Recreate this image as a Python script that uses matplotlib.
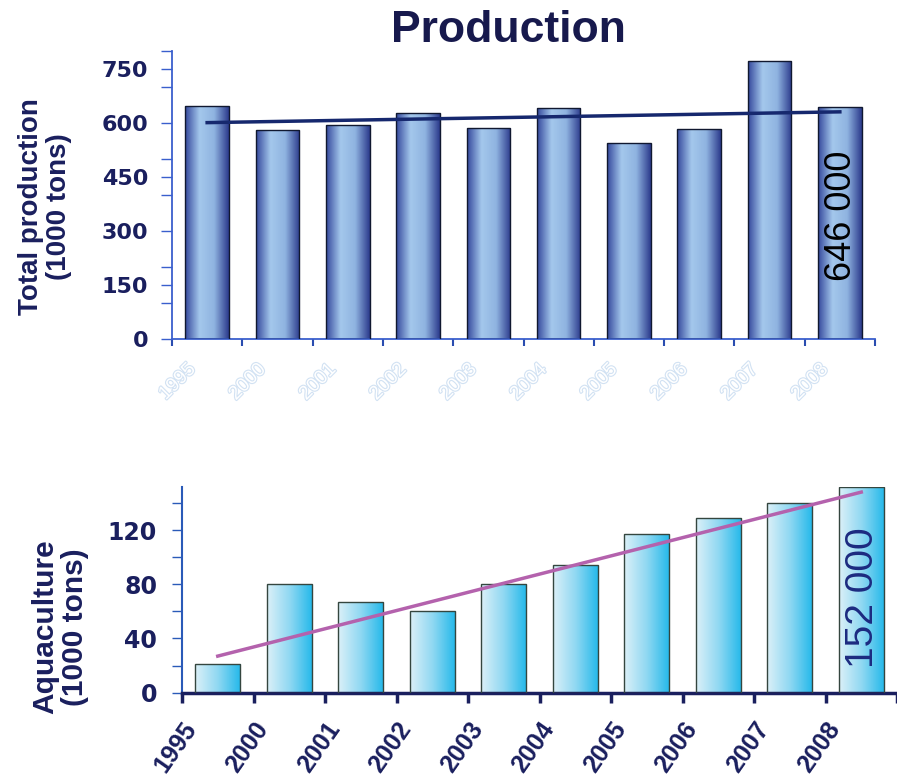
import matplotlib
matplotlib.use('Agg')
import matplotlib.pyplot as plt
import matplotlib.patheffects as pe
from matplotlib.colors import LinearSegmentedColormap
import numpy as np

years = ['1995', '2000', '2001', '2002', '2003', '2004', '2005', '2006', '2007', '2008']
production = [648, 580, 595, 629, 587, 642, 545, 583, 773, 645]
aquaculture = [21, 80, 67, 60, 80, 94, 117, 129, 140, 152]
# trend line ends (first and last year)
prod_trend = [601, 631]
aqua_trend = [27, 148]
prod_note = '646 000'
aqua_note = '152 000'

navy = '#1a1f5e'

def gradient_bars(ax, bars, cmap):
    grad = np.linspace(0, 1, 256).reshape(1, -1)
    for b in bars:
        x, y = b.get_xy()
        w, h = b.get_width(), b.get_height()
        im = ax.imshow(grad, extent=[x, x + w, y, y + h], aspect='auto',
                       cmap=cmap, zorder=2, interpolation='bicubic')
        im.set_clip_path(b)
        b.set_facecolor('none')
        b.set_zorder(3)

fig = plt.figure(figsize=(8.97, 7.78), dpi=100)

# ---------- top: total production ----------
ax1 = fig.add_axes([172/897, 1 - 339/778, 703/897, 288/778])
n = len(years)
xc = np.arange(n) + 0.5
top_cmap = LinearSegmentedColormap.from_list('top', ['#34479c', '#a4c8ec', '#8fb3e0', '#2b3a8c'])
b1 = ax1.bar(xc, production, width=0.62, edgecolor='#101830', linewidth=1.0)
gradient_bars(ax1, b1, top_cmap)
ax1.plot([xc[0], xc[-1]], prod_trend, color='#16286e', lw=2.5, zorder=4)
ax1.text(xc[-1] + 0.03, 342, prod_note, rotation=90, ha='center', va='center',
         fontsize=26, family='Liberation Sans', color='black', zorder=5)
ax1.set_xlim(0, n)
ax1.set_ylim(0, 800)
ax1.set_yticks(np.arange(0, 751, 150))
ax1.set_yticks(np.arange(100, 801, 100), minor=True)
ax1.set_xticks(np.arange(0, n + 1))
ax1.set_xticklabels([])
ax1.set_xticks(xc - 0.2, minor=True)
ax1.set_xticklabels(years, minor=True, rotation=45, ha='right', va='center',
                    rotation_mode='anchor', fontsize=14, family='Liberation Sans',
                    color='white')
for t in ax1.get_xticklabels(minor=True):
    t.set_path_effects([pe.withStroke(linewidth=1.6, foreground='#d2e2f3')])
ax1.tick_params(axis='x', which='minor', length=0, pad=20)
ax1.tick_params(axis='x', which='major', length=5, width=1.5, color='#2a4db0', direction='out')
ax1.tick_params(axis='y', which='both', length=8, width=1, color='#3a5fcd', pad=9)
for t in ax1.get_yticklabels():
    t.set_fontsize(16)
    t.set_fontweight('bold')
    t.set_color(navy)
for s in ['top', 'right']:
    ax1.spines[s].set_visible(False)
for s in ['left', 'bottom']:
    ax1.spines[s].set_color('#3a5fcd')
    ax1.spines[s].set_linewidth(1.3)

fig.text(45/897, 1 - 207/778, 'Total production\n(1000 tons)', rotation=90,
         ha='center', va='center', multialignment='center', fontsize=20,
         fontweight='bold', family='Liberation Sans', color=navy, linespacing=1.1)
fig.text(508/897, 1 - 31/778, 'Production', ha='center', va='center', fontsize=32,
         fontweight='bold', family='Liberation Sans', color='#17194d')

# ---------- bottom: aquaculture ----------
ax2 = fig.add_axes([182/897, 1 - 692.7/778, 715/897, 206/778])
bot_cmap = LinearSegmentedColormap.from_list('bot', ['#dcf0f8', '#8fd8f2', '#22b8ea'])
b2 = ax2.bar(xc, aquaculture, width=0.63, edgecolor='#34463f', linewidth=1.0)
gradient_bars(ax2, b2, bot_cmap)
ax2.plot([xc[0], xc[-1]], aqua_trend, color='#b462ad', lw=2.5, zorder=4)
ax2.text(xc[-1] + 0.02, 70, aqua_note, rotation=90, ha='center', va='center',
         fontsize=28, family='Liberation Sans', color='#1c2a80', zorder=5)
ax2.set_xlim(0, n)
ax2.set_ylim(0, 152)
ax2.set_yticks(np.arange(0, 121, 40))
ax2.set_yticks(np.arange(20, 141, 40), minor=True)
ax2.set_xticks(np.arange(0, n + 1))
ax2.set_xticklabels([])
ax2.set_xticks(xc - 0.36, minor=True)
ax2.set_xticklabels(years, minor=True, rotation=55, ha='right', va='center',
                    rotation_mode='anchor', fontsize=18, fontweight='bold',
                    family='Liberation Sans', color=navy)
ax2.tick_params(axis='x', which='minor', length=0, pad=23)
ax2.tick_params(axis='x', which='major', length=7, width=2.5, color=navy, direction='out')
ax2.tick_params(axis='y', which='both', length=7, width=1, color='#2a5ab8', pad=11)
for t in ax2.get_yticklabels():
    t.set_fontsize(17)
    t.set_fontweight('bold')
    t.set_color(navy)
for s in ['top', 'right']:
    ax2.spines[s].set_visible(False)
ax2.spines['left'].set_color('#2a5ab8')
ax2.spines['left'].set_linewidth(1.5)
ax2.spines['bottom'].set_color(navy)
ax2.spines['bottom'].set_linewidth(2.5)

fig.text(60/897, 1 - 627/778, 'Aquaculture\n(1000 tons)', rotation=90,
         ha='center', va='center', multialignment='center', fontsize=21.5,
         fontweight='bold', family='Liberation Sans', color=navy, linespacing=1.1)

fig.savefig('out.png', dpi=100)
